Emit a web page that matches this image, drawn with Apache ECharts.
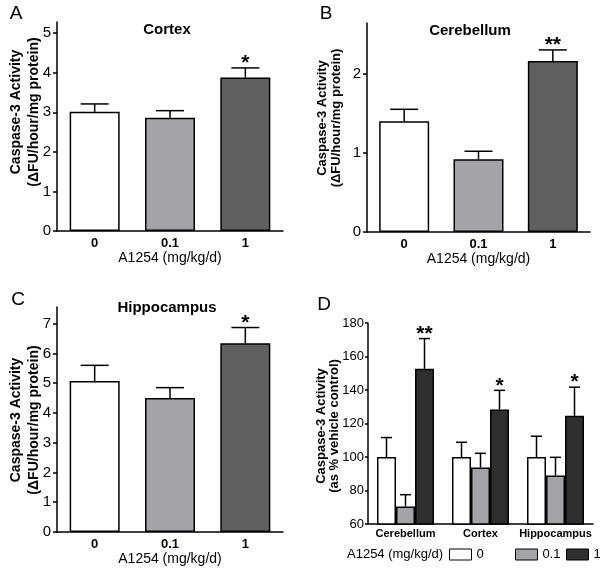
<!DOCTYPE html>
<html><head><meta charset="utf-8">
<script src="https://cdn.jsdelivr.net/npm/echarts@6/dist/echarts.min.js"></script>
<style>html,body{margin:0;padding:0;background:#fff}#c{width:600px;height:573px}</style>
</head><body><div id="c"></div>
<script>
// ---- data ----
const doses = ['0', '0.1', '1'];
const cortexMean = [3.01, 2.86, 3.88];
const cortexSem = [0.20, 0.18, 0.24];
const cortexSig = ['', '', '*'];
const cerebMean = [1.40, 0.92, 2.16];
const cerebSem = [0.15, 0.10, 0.14];
const cerebSig = ['', '', '**'];
const hippoMean = [5.07, 4.50, 6.34];
const hippoSem = [0.53, 0.35, 0.53];
const hippoSig = ['', '', '*'];
const regions = ['Cerebellum', 'Cortex', 'Hippocampus'];
const pctDose0 = [100, 100, 100];
const pctSem0 = [11.6, 8.8, 12.4];
const pctDose01 = [70.5, 93.8, 89.0];
const pctSem01 = [7.0, 8.4, 10.8];
const pctDose1 = [152.7, 128.4, 124.6];
const pctSem1 = [18.0, 11.4, 17.1];
const pctSig1 = ['**', '*', '*'];
const ticksA = [0, 1, 2, 3, 4, 5];
const ticksB = [0, 1, 2];
const ticksC = [0, 1, 2, 3, 4, 5, 6, 7];
const ticksD = [60, 80, 100, 120, 140, 160, 180];

// ---- styles ----
const FONT = 'Liberation Sans, Arial, sans-serif';
const doseColors = ['#ffffff', '#a4a4a8', '#606060'];
const doseColorsD = ['#ffffff', '#a4a4a8', '#2f2f2f'];

const chart = echarts.init(document.getElementById('c'), null, {renderer: 'canvas'});

const grids = [
  {left: 57, top: 22, width: 226, height: 209},
  {left: 367, top: 23, width: 223, height: 209},
  {left: 57, top: 307, width: 226, height: 225},
  {left: 368, top: 323, width: 225, height: 201}
];

function xAx(i, cats, fs, margin, withName) {
  return {
    type: 'category', gridIndex: i, data: cats,
    axisLine: {lineStyle: {color: '#000', width: 1.5}},
    axisTick: {show: false},
    axisLabel: {color: '#000', fontFamily: FONT, fontWeight: 'bold', fontSize: fs, margin: margin, interval: 0, hideOverlap: false},
    name: withName ? 'A1254 (mg/kg/d)' : '',
    nameLocation: 'middle', nameGap: 20,
    nameTextStyle: {color: '#000', fontFamily: FONT, fontSize: 14}
  };
}
function yAx(i, min, max, ticks, fs, tl, mg) {
  return {
    type: 'value', gridIndex: i, min: min, max: max,
    splitLine: {show: false},
    axisLine: {show: true, lineStyle: {color: '#000', width: 1.5}},
    axisTick: {show: true, length: tl, lineStyle: {color: '#000', width: 1.5}, customValues: ticks},
    axisLabel: {color: '#000', fontFamily: FONT, fontSize: fs, margin: mg, customValues: ticks}
  };
}

function barSeries(i, vals, colors) {
  return {
    type: 'bar', xAxisIndex: i, yAxisIndex: i, barWidth: 50, z: 2,
    data: vals.map((v, k) => ({value: v, itemStyle: {color: colors[k]}})),
    itemStyle: {borderColor: '#000', borderWidth: 1.5},
    silent: true
  };
}

function errSeries(i, mean, sem, sig, offsetIdx, nBars, barW, capW) {
  return {
    type: 'custom', xAxisIndex: i, yAxisIndex: i, z: 5, silent: true,
    data: mean.map((m, k) => [k, m, m + sem[k]]),
    renderItem: function (params, api) {
      const base = api.coord([api.value(0), api.value(1)]);
      const top = api.coord([api.value(0), api.value(2)]);
      const x = base[0] + (offsetIdx - (nBars - 1) / 2) * barW;
      const children = [
        {type: 'line', shape: {x1: x, y1: base[1], x2: x, y2: top[1]}, style: {stroke: '#000', lineWidth: 1.5}},
        {type: 'line', shape: {x1: x - capW / 2, y1: top[1], x2: x + capW / 2, y2: top[1]}, style: {stroke: '#000', lineWidth: 1.5}}
      ];
      const s = sig ? sig[params.dataIndex] : '';
      if (s) {
        children.push({type: 'text', style: {text: s, x: x, y: top[1] + 6, align: 'center', verticalAlign: 'bottom',
          font: 'bold 21px ' + FONT, fill: '#000'}});
      }
      return {type: 'group', children: children};
    }
  };
}

function rotText(x, y, txt, fs, weight) {
  return {type: 'text', x: x, y: y, rotation: Math.PI / 2,
    style: {text: txt, align: 'center', verticalAlign: 'middle', font: (weight || 'bold') + ' ' + fs + 'px ' + FONT, fill: '#000'}};
}
function plainText(x, y, txt, fs, weight, align) {
  return {type: 'text', x: x, y: y,
    style: {text: txt, align: align || 'center', verticalAlign: 'middle', font: (weight || 'normal') + ' ' + fs + 'px ' + FONT, fill: '#000'}};
}

const dSeries = [
  {name: '0', vals: pctDose0, sem: pctSem0, sig: null, color: doseColorsD[0]},
  {name: '0.1', vals: pctDose01, sem: pctSem01, sig: null, color: doseColorsD[1]},
  {name: '1', vals: pctDose1, sem: pctSem1, sig: pctSig1, color: doseColorsD[2]}
];

const series = [
  barSeries(0, cortexMean, doseColors),
  errSeries(0, cortexMean, cortexSem, cortexSig, 0, 1, 0, 28),
  barSeries(1, cerebMean, doseColors),
  errSeries(1, cerebMean, cerebSem, cerebSig, 0, 1, 0, 28),
  barSeries(2, hippoMean, doseColors),
  errSeries(2, hippoMean, hippoSem, hippoSig, 0, 1, 0, 28)
];
dSeries.forEach((d, k) => {
  series.push({
    type: 'bar', name: d.name, xAxisIndex: 3, yAxisIndex: 3, barWidth: 19, barGap: '0%', z: 2, silent: true,
    data: d.vals,
    itemStyle: {color: d.color, borderColor: '#000', borderWidth: 1.5}
  });
});
dSeries.forEach((d, k) => {
  series.push(errSeries(3, d.vals, d.sem, d.sig, k, 3, 19, 11));
});

const legendLefts = [449, 515, 566];
const legends = dSeries.map((d, k) => ({
  data: [d.name], left: legendLefts[k], top: 548, orient: 'horizontal', padding: 0,
  icon: 'rect', itemWidth: 22, itemHeight: 11, itemGap: 4, selectedMode: false,
  itemStyle: {borderColor: '#000', borderWidth: 1},
  textStyle: {color: '#000', fontFamily: FONT, fontSize: 13}
}));

chart.setOption({
  animation: false,
  backgroundColor: '#fff',
  grid: grids,
  xAxis: [xAx(0, doses, 13, 6, true), xAx(1, doses, 13, 6, true), xAx(2, doses, 13, 6, true), xAx(3, regions, 11, 4, false)],
  yAxis: [yAx(0, 0, 5.28, ticksA, 15, 4, 6), yAx(1, 0, 2.64, ticksB, 15, 4, 6), yAx(2, 0, 7.56, ticksC, 15, 4, 6), yAx(3, 60, 180, ticksD, 13, 3, 4)],
  legend: legends,
  series: series,
  graphic: [
    plainText(16, 14, 'A', 19),
    plainText(326, 14, 'B', 19),
    plainText(18, 300, 'C', 19),
    plainText(324, 305, 'D', 19),
    plainText(167, 30, 'Cortex', 15, 'bold'),
    plainText(470, 31, 'Cerebellum', 15, 'bold'),
    plainText(167, 308, 'Hippocampus', 15, 'bold'),
    rotText(16, 112, 'Caspase-3 Activity', 14),
    rotText(34, 112, '(\u0394FU/hour/mg protein)', 14),
    rotText(322, 118, 'Caspase-3 Activity', 13),
    rotText(336, 118, '(\u0394FU/hour/mg protein)', 13),
    rotText(16, 420, 'Caspase-3 Activity', 14),
    rotText(34, 420, '(\u0394FU/hour/mg protein)', 14),
    rotText(321, 426, 'Caspase-3 Activity', 13),
    rotText(334, 426, '(as % vehicle control)', 13),
    plainText(347, 554, 'A1254 (mg/kg/d)', 13, 'normal', 'left')
  ]
});
</script>
</body></html>
